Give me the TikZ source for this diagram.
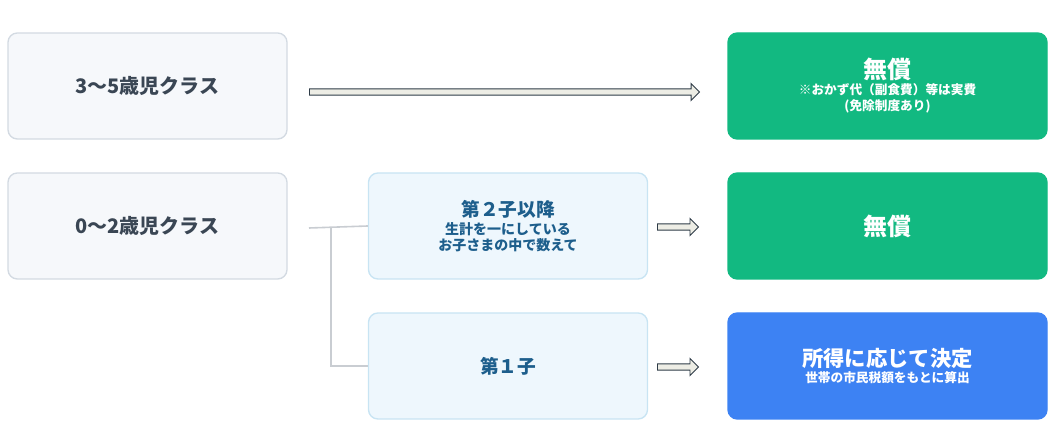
\documentclass[tikz,border=0pt]{standalone}
\usepackage{fontspec}
\setmainfont{Noto Sans CJK JP}
\usetikzlibrary{shapes.arrows}
\definecolor{classfill}{HTML}{F6F8FB}
\definecolor{classline}{HTML}{D3DAE2}
\definecolor{classtext}{HTML}{3A4654}
\definecolor{kidfill}{HTML}{EEF7FD}
\definecolor{kidline}{HTML}{C8E4F3}
\definecolor{kidtext}{HTML}{1D5E8C}
\definecolor{freegreen}{HTML}{12B981}
\definecolor{feeblue}{HTML}{3D82F3}
\definecolor{arrowfill}{HTML}{EDEDE5}
\definecolor{arrowline}{HTML}{2E3B47}
\definecolor{joinline}{HTML}{C9CDD2}
\newcommand{\bigtxt}[2]{\fontsize{#1}{#2}\selectfont\bfseries}
\tikzset{
  box/.style={rounded corners=7pt, minimum width=279*0.75pt, minimum height=106*0.75pt, align=center, line width=1pt},
  class/.style={box, fill=classfill, draw=classline, text=classtext, font=\bigtxt{15}{19}},
  kid/.style={box, fill=kidfill, draw=kidline, text=kidtext},
  result/.style={box, minimum width=319*0.75pt, fill=#1, draw=#1, text=white},
  flow/.style={single arrow, fill=arrowfill, draw=arrowline, line width=0.7pt, minimum height=#1*0.75pt,
    single arrow head extend=4pt, single arrow tip angle=90, inner sep=2pt},
  branch/.style={draw=joinline, line width=1.2pt}
}
\begin{document}
\begin{tikzpicture}[x=0.75pt, y=-0.75pt]
  \useasboundingbox (0,0) rectangle (1061,448);

  % Age classes
  \node[class] (older) at (147.5,86) {3～5歳児クラス};
  \node[class] (younger) at (147.5,226) {0～2歳児クラス};

  % Child order
  \node[kid] (second) at (508,226) {\bigtxt{14}{19}第２子以降\\[2pt]
    \bigtxt{10.5}{18}生計を一にしている\\\bigtxt{10.5}{18}お子さまの中で数えて};
  \node[kid] (first) at (508,366) {\bigtxt{14}{18}第１子};

  % Results
  \node[result=freegreen] (freeA) at (887.5,86) {\bigtxt{18}{22}無償\\
    \bigtxt{9.5}{15}※おかず代（副食費）等は実費\\\bigtxt{9.5}{15}(免除制度あり)};
  \node[result=freegreen] (freeB) at (887.5,226) {\bigtxt{18}{22}無償};
  \node[result=feeblue] (fee) at (887.5,366) {\bigtxt{16}{21}所得に応じて決定\\
    \bigtxt{9.5}{16}世帯の市民税額をもとに算出};

  % Arrows
  \node[flow=390, anchor=west] (bigarrow) at (309,92) {};
  \node[flow=41, anchor=west] (arrowB) at (657,227) {};
  \node[flow=41, anchor=west] (arrowC) at (657,367) {};

  % Branch lines
  \coordinate (split) at (331,228);
  \coordinate (stub) at (309,228);
  \draw[branch] (stub) -- (second.west);
  \draw[branch] (split) |- (first.west);
\end{tikzpicture}
\end{document}
